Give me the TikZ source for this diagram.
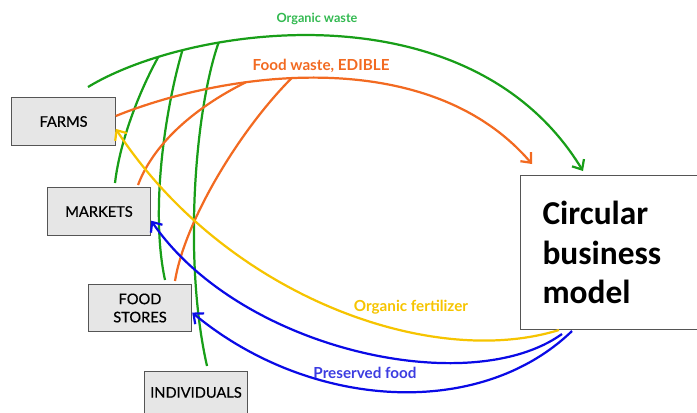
\documentclass[tikz,border=0pt]{standalone}
\usepackage{fontspec}
\setmainfont{Lato}
\newfontfamily\calibri{Carlito}
\newfontfamily\boxfont[FakeBold=0.6]{Lato}
\usetikzlibrary{arrows.meta}

\definecolor{wastegreen}{RGB}{24,158,24}
\definecolor{wastegreentext}{RGB}{50,185,80}
\definecolor{edibleorange}{RGB}{242,106,33}
\definecolor{fertyellow}{RGB}{246,196,0}
\definecolor{preservedblue}{RGB}{10,10,230}
\definecolor{preservedbluetext}{RGB}{60,60,225}
\definecolor{boxfill}{RGB}{230,230,230}
\definecolor{boxline}{RGB}{85,85,85}

\tikzset{
  actor/.style={draw=boxline,fill=boxfill,line width=0.9pt,minimum width=3.1cm,
    minimum height=1.42cm,inner sep=0pt,align=center,
    font=\boxfont\fontsize{12.5}{15.5}\selectfont},
  model/.style={draw=boxline,fill=white,line width=0.9pt,anchor=north west,
    minimum height=4.62cm,text width=4.7cm,inner xsep=0.66cm,align=left,
    font=\calibri\bfseries\fontsize{28.5}{34}\selectfont},
  flow/.style={line width=1.9pt},
  flowarrow/.style={flow,-{Straight Barb[length=2.4mm,width=4.2mm]}},
  flowlabel/.style={font=\bfseries\fontsize{13}{15}\selectfont}
}

\begin{document}
\begin{tikzpicture}[x=0.03cm,y=-0.03cm]
  \useasboundingbox (0,0) rectangle (697,412);
  \clip (0,0) rectangle (697,412);

  \node[actor] (farms) at (63.5,121.5) {FARMS};
  \node[actor] (markets) at (99,211.5) {MARKETS};
  \node[actor] (stores) at (140,308) {FOOD\\STORES};
  \node[actor,anchor=north,minimum height=1.6cm] (individuals) at (196,371) {\raisebox{0.35cm}{INDIVIDUALS}};
  \node[model] (cbm) at (520,175) {Circular\\business\\model};

  \coordinate (gstart) at (88,87);
  \coordinate (gend) at (583,171);
  \coordinate (oend) at (532,164);
  \coordinate (yellowstart) at (559,330);
  \coordinate (bluestartA) at (562,334);
  \coordinate (bluestartB) at (572,331);

  % organic waste
  \draw[flowarrow,wastegreen] (gstart) .. controls (190,25) and (470,-15) ..
    coordinate[pos=0.18] (g1) coordinate[pos=0.23] (g2) coordinate[pos=0.3] (g3) (gend);
  \coordinate (gfarms) at (115,183);
  \coordinate (gmarkets) at (165,280);
  \coordinate (gstores) at (207,366);
  \draw[flow,wastegreen] (g1) .. controls (140,90) and (120,140) .. (gfarms);
  \draw[flow,wastegreen] (g2) .. controls (165,110) and (150,210) .. (gmarkets);
  \draw[flow,wastegreen] (g3) .. controls (195,110) and (183,260) .. (gstores);
  \node[flowlabel,wastegreentext,font=\bfseries\fontsize{10.8}{13}\selectfont] (owlabel) at (317,19) {Organic waste};

  % food waste, edible
  \draw[flowarrow,edibleorange] (farms.6) .. controls (230,70) and (430,45) ..
    coordinate[pos=0.32] (o1) coordinate[pos=0.42] (o2) (oend);
  \coordinate (omarkets) at (138,185);
  \coordinate (ostores) at (175,281);
  \draw[flow,edibleorange] (o1) .. controls (200,105) and (155,140) .. (omarkets);
  \draw[flow,edibleorange] (o2) .. controls (240,130) and (185,220) .. (ostores);
  \node[flowlabel,edibleorange] (fwlabel) at (321,66) {Food waste, EDIBLE};

  % organic fertilizer
  \draw[flowarrow,fertyellow] (yellowstart) .. controls (430,370) and (225,295) .. (farms.-8);
  \node[flowlabel,fertyellow] (oflabel) at (411,307) {Organic fertilizer};

  % preserved food
  \draw[flowarrow,preservedblue] (bluestartA) .. controls (470,400) and (240,350) .. (markets.-10);
  \draw[flowarrow,preservedblue] (bluestartB) .. controls (480,420) and (310,410) .. (stores.-5);
  \node[flowlabel,preservedbluetext] (pflabel) at (365,373) {Preserved food};
\end{tikzpicture}
\end{document}
